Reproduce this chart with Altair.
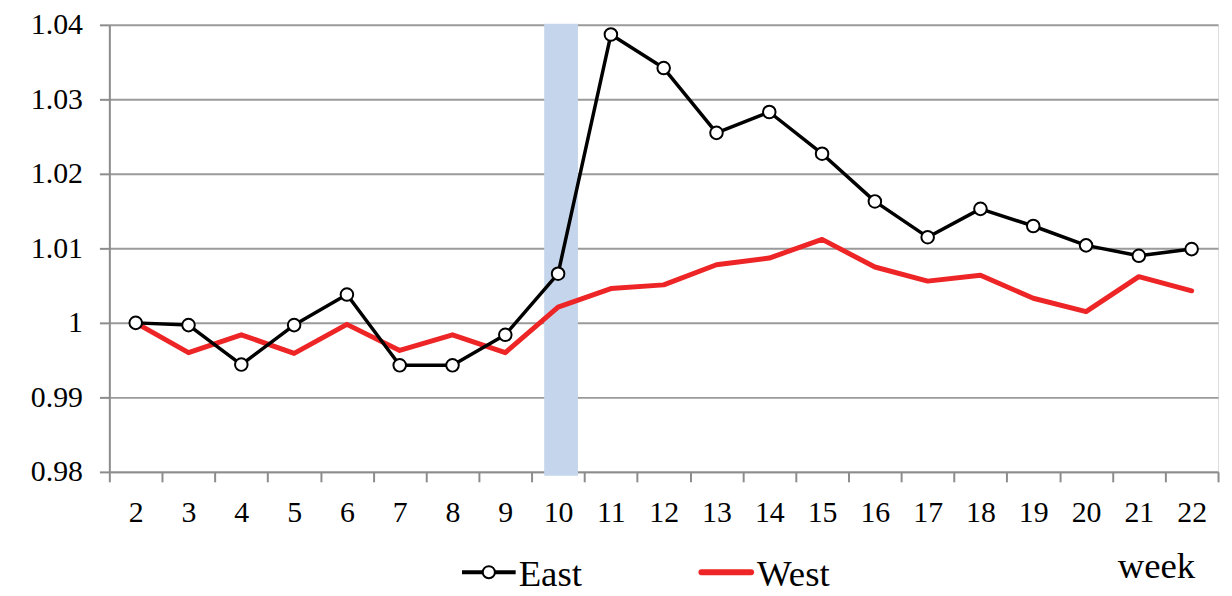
import altair as alt
import pandas as pd

weeks = [str(w) for w in range(2, 23)]
east = [1.0000, 0.9997, 0.9944, 0.9997, 1.0038, 0.9943, 0.9943, 0.9984, 1.0066,
        1.0387, 1.0342, 1.0255, 1.0283, 1.0227, 1.0163, 1.0115, 1.0153, 1.0130,
        1.0104, 1.0090, 1.0099]
west = [1.0000, 0.9960, 0.9984, 0.9959, 0.9998, 0.9963, 0.9984, 0.9960, 1.0021,
        1.0046, 1.0051, 1.0078, 1.0087, 1.0112, 1.0075, 1.0056, 1.0064, 1.0033,
        1.0015, 1.0062, 1.0043]
series_names = ["East", "West"]
series_colors = ["#000000", "#ee2526"]
shaded_weeks = ["10"]
y_ticks = [0.98, 0.99, 1.00, 1.01, 1.02, 1.03, 1.04]
x_title = "week"

FONT = "Times New Roman, Liberation Serif, serif"

df = pd.DataFrame({
    "week": weeks * 2,
    "series": [series_names[0]] * len(weeks) + [series_names[1]] * len(weeks),
    "value": east + west,
})
df_east = df[df["series"] == "East"]
df_west = df[df["series"] == "West"]

x_enc = alt.X(
    "week:N", sort=weeks,
    scale=alt.Scale(type="band", domain=weeks, paddingInner=0, paddingOuter=0),
    axis=alt.Axis(title=None, labelAngle=0, tickBand="extent", grid=False,
                  domainColor="#8c8c8c", domainWidth=2, tickColor="#8c8c8c",
                  tickWidth=2, tickSize=10, labelPadding=16, labelFontSize=30,
                  labelFont=FONT, labelColor="black"),
)
y_enc = alt.Y(
    "value:Q",
    scale=alt.Scale(domain=[0.98, 1.04], nice=False, zero=False),
    axis=alt.Axis(title=None, values=y_ticks, format="~g", tickSize=10,
                  labelPadding=17, labelFontSize=30, labelFont=FONT,
                  labelColor="black", gridColor="#9a9a9a", gridWidth=2,
                  domainColor="#8c8c8c", domainWidth=2, tickColor="#8c8c8c",
                  tickWidth=2),
)
color_enc = alt.Color("series:N", scale=alt.Scale(domain=series_names, range=series_colors), legend=None)

band = alt.Chart(pd.DataFrame({"week": shaded_weeks})).mark_bar(
    color="#c5d6ec", width=alt.RelativeBandSize(0.64), xOffset=3
).encode(x=x_enc, y=alt.value(-1), y2=alt.value(454))

west_line = alt.Chart(df_west).mark_line(strokeWidth=5, strokeJoin="round", strokeCap="round").encode(
    x=x_enc, y=y_enc, color=color_enc)
east_line = alt.Chart(df_east).mark_line(strokeWidth=3.5, strokeJoin="round").encode(
    x=x_enc, y=y_enc, color=color_enc)
east_pts = alt.Chart(df_east).mark_point(filled=True, fill="white", stroke="black",
                                        strokeWidth=2, size=160, opacity=1).encode(x=x_enc, y=y_enc)

one = pd.DataFrame({"label": [series_names[0]]})
two = pd.DataFrame({"label": [series_names[1]]})
wk = pd.DataFrame({"label": [x_title]})

leg_e_line = alt.Chart(one).mark_rule(color="black", strokeWidth=4).encode(
    x=alt.value(355), x2=alt.value(409), y=alt.value(551))
leg_e_pt = alt.Chart(one).mark_point(filled=True, fill="white", stroke="black", strokeWidth=2,
                                     size=150, opacity=1).encode(x=alt.value(382), y=alt.value(551))
leg_e_txt = alt.Chart(one).mark_text(align="left", baseline="alphabetic", fontSize=37, font=FONT,
                                     color="black").encode(text="label:N", x=alt.value(412), y=alt.value(565))
leg_w_line = alt.Chart(two).mark_rule(color=series_colors[1], strokeWidth=6, strokeCap="round").encode(
    x=alt.value(596), x2=alt.value(646), y=alt.value(551))
leg_w_txt = alt.Chart(two).mark_text(align="left", baseline="alphabetic", fontSize=37, font=FONT,
                                     color="black").encode(text="label:N", x=alt.value(652), y=alt.value(565))
week_txt = alt.Chart(wk).mark_text(align="left", baseline="alphabetic", fontSize=37, font=FONT,
                                   color="black").encode(text="label:N", x=alt.value(1015), y=alt.value(557))
border = alt.Chart(one).mark_rule(color="#9a9a9a", strokeWidth=2).encode(
    x=alt.value(-106), y=alt.value(-23), y2=alt.value(580))

chart = alt.layer(
    band, west_line, east_line, east_pts,
    leg_e_line, leg_e_pt, leg_e_txt, leg_w_line, leg_w_txt, week_txt, border
).properties(
    width=1116, height=450,
    autosize=alt.AutoSizeParams(type="none"),
    padding={"left": 102, "top": 15, "right": 6, "bottom": 123},
).configure_view(stroke=None).configure(background="white", font=FONT)

chart.save("out.html", embed_options={"renderer": "svg", "actions": False})
